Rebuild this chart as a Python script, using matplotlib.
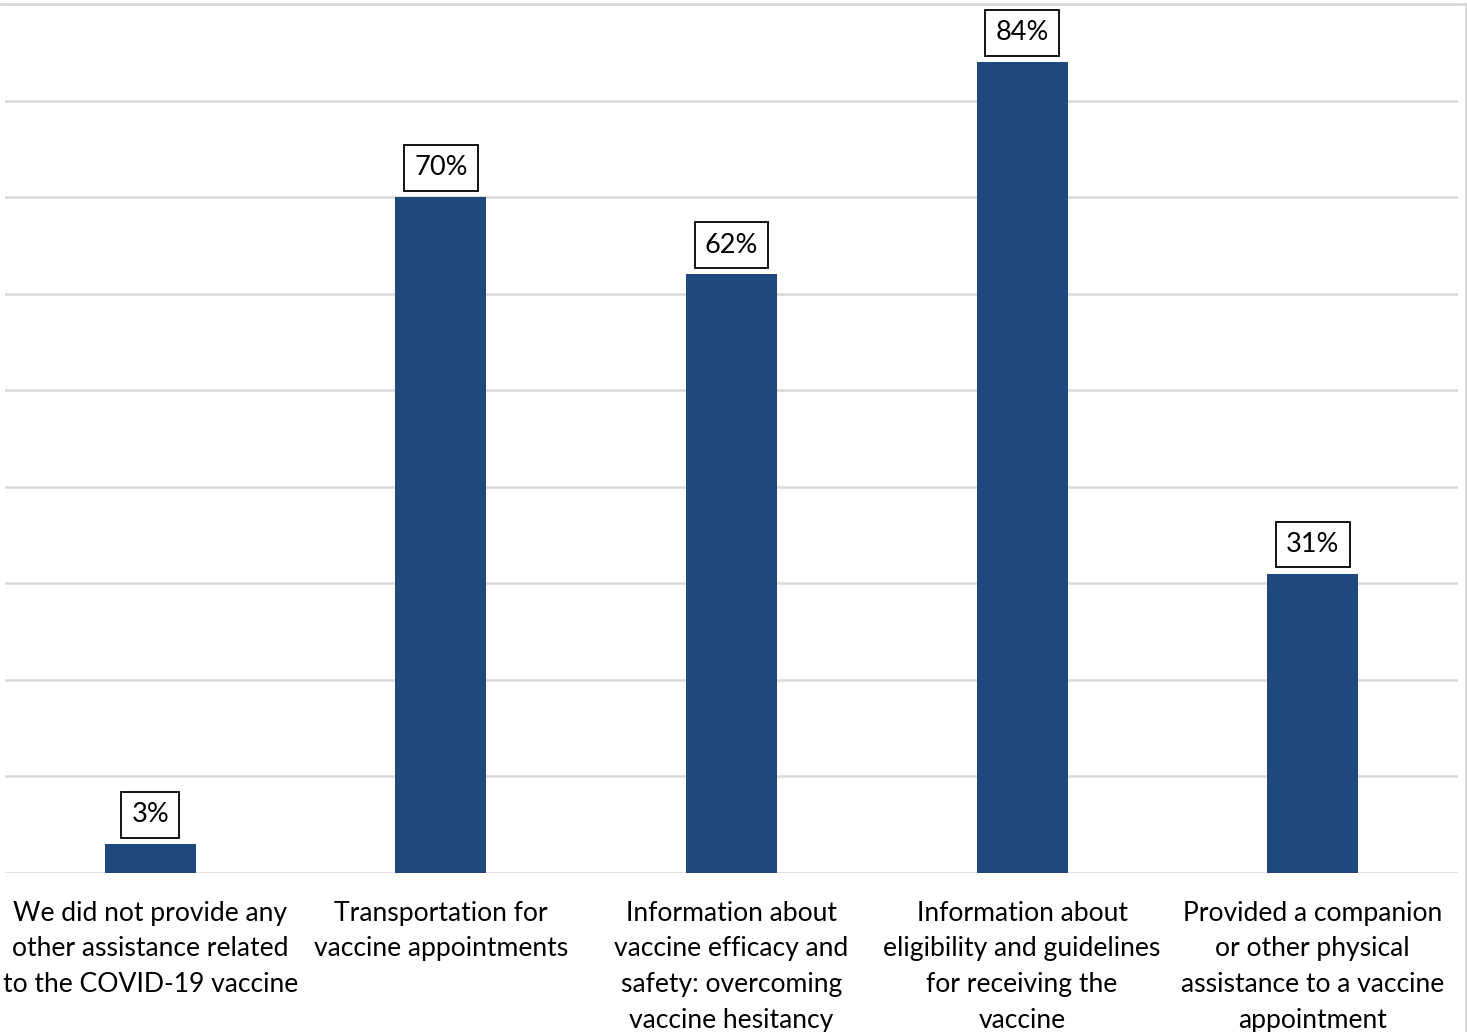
import matplotlib
matplotlib.use("Agg")
import matplotlib.pyplot as plt

categories = [
    "We did not provide any\nother assistance related\nto the COVID-19 vaccine",
    "Transportation for\nvaccine appointments",
    "Information about\nvaccine efficacy and\nsafety: overcoming\nvaccine hesitancy",
    "Information about\neligibility and guidelines\nfor receiving the\nvaccine",
    "Provided a companion\nor other physical\nassistance to a vaccine\nappointment",
]
values = [3, 70, 62, 84, 31]
value_labels = ["3%", "70%", "62%", "84%", "31%"]

plt.rcParams['font.family'] = ['Lato', 'DejaVu Sans']

W, H = 1467, 1032
fig = plt.figure(figsize=(W / 100, H / 100), dpi=100)
ax = fig.add_axes([5 / W, 1 - 873 / H, (1458 - 5) / W, (873 - 4) / H])

x = list(range(len(values)))
ax.bar(x, values, width=0.313, color="#1F497D", zorder=3)
ax.set_xlim(-0.5, len(values) - 0.5)
ax.set_ylim(0, 90)
ax.set_yticks(range(0, 91, 10))
ax.yaxis.grid(True, color="#D9D9D9", linewidth=1.8)
ax.tick_params(axis="y", left=False, labelleft=False)
ax.tick_params(axis="x", bottom=False, labelbottom=False)
for s in ax.spines.values():
    s.set_visible(False)
ax.set_axisbelow(True)

for xi, v, lab in zip(x, values, value_labels):
    ax.annotate(lab, (xi, v), xytext=(0, 21), textcoords="offset points",
                ha="center", va="center", fontsize=19.5, color="black",
                bbox=dict(boxstyle="square,pad=0.38", fc="white", ec="black", lw=1.3),
                zorder=4)

for xi, cat in zip(x, categories):
    ax.annotate(cat, (xi, 0), xytext=(0, -20), textcoords="offset points",
                ha="center", va="top", fontsize=19.1, color="black",
                linespacing=1.53, annotation_clip=False)

# outer chart frame (top and right edges visible)
fig.add_artist(plt.Line2D([0, 1], [1 - 4 / H, 1 - 4 / H], transform=fig.transFigure,
                          color="#D9D9D9", lw=2))
fig.add_artist(plt.Line2D([1 - 1 / W, 1 - 1 / W], [0, 1 - 4 / H], transform=fig.transFigure,
                          color="#D9D9D9", lw=2))

fig.savefig("out.png", dpi=100, facecolor="white")
